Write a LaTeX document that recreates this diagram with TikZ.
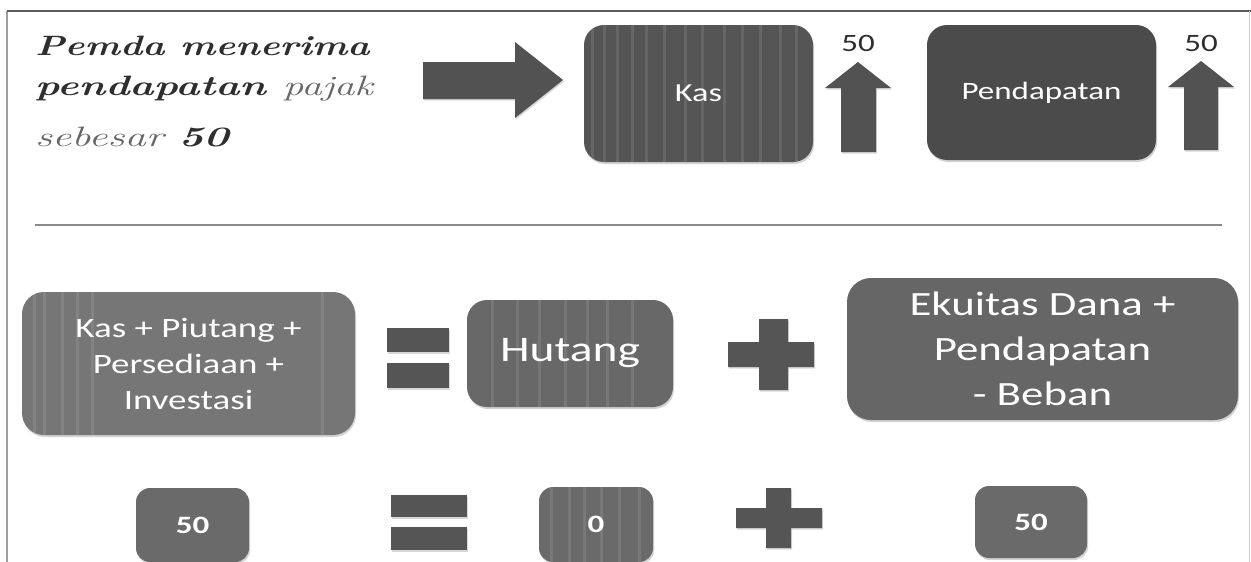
\documentclass[tikz,border=0pt]{standalone}
\usepackage{fontspec}
\newfontfamily\boxfont[FakeStretch=1.32]{Carlito}
\usetikzlibrary{shadows}
\definecolor{kasc}{HTML}{555555}
\definecolor{pendc}{HTML}{4B4B4B}
\definecolor{arrc}{HTML}{525252}
\definecolor{bigc}{HTML}{767676}
\definecolor{hutc}{HTML}{686868}
\definecolor{ekuc}{HTML}{666666}
\definecolor{symc}{HTML}{555555}
\definecolor{smc}{HTML}{6A6A6A}
\definecolor{sepc}{HTML}{8A8A8A}
\definecolor{inkc}{HTML}{2E2E2E}
\begin{document}
\begin{tikzpicture}[x=1pt,y=-1pt,
  gbox/.style={rounded corners=#1, inner sep=0pt, text=white, align=center,
    drop shadow={opacity=0.35, shadow xshift=1pt, shadow yshift=-2pt}},
  gbox/.default=20pt,
  stripes/.style={path picture={\foreach \s in {#1}
      \draw[white, opacity=0.1, line width=3pt]
        ([xshift=\s pt]path picture bounding box.south west) --
        ([xshift=\s pt]path picture bounding box.north west);}},
  symb/.style={fill=symc, drop shadow={opacity=0.3, shadow xshift=1pt, shadow yshift=-1.5pt}},
  lbl/.style={inner sep=0pt, text=inkc, font=\boxfont\fontsize{25}{28}\selectfont},
  ttl/.style={anchor=base west, inner sep=0pt, text=inkc, font=\fontsize{28}{32}\selectfont\itshape}
]
\useasboundingbox (0,0) rectangle (1251,562);
\fill[white] (0,0) rectangle (1251,562);
% frame
\draw[gray!75, line width=1.2pt] (7,562) -- (7,11);
\draw[black!65, line width=1.4pt] (7,11) -- (1251,11);
\draw[gray!40, line width=0.8pt] (1249.5,11) -- (1249.5,562);

% title
\node[ttl] (t1) at (35,55) {\scalebox{1.34}[1]{\bfseries Pemda menerima}};
\node[ttl] (t2) at (35,95) {\scalebox{1.46}[1]{\bfseries pendapatan \mdseries\color{black!60}pajak}};
\node[ttl] (t3) at (35,146) {\scalebox{1.52}[1]{\color{black!60}sebesar \color{inkc}\bfseries 50}};

% big right arrow
\fill[arrc, drop shadow={opacity=0.3, shadow xshift=1pt, shadow yshift=-1.5pt}]
  (423,62) -- (515,62) -- (515,42) -- (563,80) -- (515,118) -- (515,99) -- (423,99) -- cycle;

% top boxes
\node[gbox, fill=kasc, minimum width=229pt, minimum height=137pt,
  stripes={8,20,33,48,62,80,101,118,140,158,176,196,212},
  font=\boxfont\fontsize{26}{30}\selectfont] (kas) at (698.5,93.5) {Kas};
\node[gbox, fill=pendc, minimum width=229pt, minimum height=135pt,
  font=\boxfont\fontsize{25}{28}\selectfont] (pend) at (1041.5,92.5) {Pendapatan};

% up arrows
\fill[arrc, drop shadow={opacity=0.3, shadow xshift=1pt, shadow yshift=-1.5pt}]
  (841,152) -- (841,88) -- (825,88) -- (858,62) -- (891,88) -- (876,88) -- (876,152) -- cycle;
\fill[arrc, drop shadow={opacity=0.3, shadow xshift=1pt, shadow yshift=-1.5pt}]
  (1184,150) -- (1184,87) -- (1168,87) -- (1201,61) -- (1234,87) -- (1218,87) -- (1218,150) -- cycle;
\node[lbl] (k50) at (858,43) {50};
\node[lbl] (p50) at (1201,43) {50};

% separator
\coordinate (sepL) at (35,225);
\coordinate (sepR) at (1222,225);
\draw[sepc, line width=2.5pt] (sepL) -- (sepR);

% middle row
\node[gbox=22pt, fill=bigc, minimum width=333pt, minimum height=143pt,
  stripes={12,22,40,55,70,300},
  font=\boxfont\fontsize{28}{36}\selectfont] (assets) at (188.5,363.5)
  {Kas + Piutang +\\Persediaan +\\Investasi};
\fill[symb] (387,328) rectangle (449,352);
\fill[symb] (387,363) rectangle (449,388);
\node[gbox, fill=hutc, minimum width=206pt, minimum height=107pt,
  stripes={25,50,72,98,120,140,165},
  font=\boxfont\fontsize{36}{42}\selectfont] (hut) at (570,353.5) {Hutang};
\fill[symb] (759,319) rectangle (788,342) (728,342) rectangle (814,367) (759,367) rectangle (788,390);
\node[gbox=24pt, fill=ekuc, minimum width=391pt, minimum height=142pt,
  font=\boxfont\fontsize{34}{45}\selectfont] (eku) at (1042.5,349)
  {Ekuitas Dana +\\Pendapatan\\- Beban};

% bottom row
\node[gbox=14pt, fill=smc, minimum width=113pt, minimum height=74pt,
  font=\boxfont\bfseries\fontsize{25}{28}\selectfont] (b50a) at (192.5,525) {50};
\fill[symb] (391,495) rectangle (467,517);
\fill[symb] (391,527) rectangle (467,550);
\node[gbox=14pt, fill=smc, minimum width=114pt, minimum height=75pt,
  stripes={12,30,45,62,80,100},
  font=\boxfont\bfseries\fontsize{25}{28}\selectfont] (b0) at (596,524.5) {0};
\fill[symb] (766,488) rectangle (791,508) (736,508) rectangle (822,528) (766,528) rectangle (791,548);
\node[gbox=14pt, fill=smc, minimum width=112pt, minimum height=72pt,
  font=\boxfont\bfseries\fontsize{25}{28}\selectfont] (b50b) at (1031,522) {50};
\end{tikzpicture}
\end{document}
